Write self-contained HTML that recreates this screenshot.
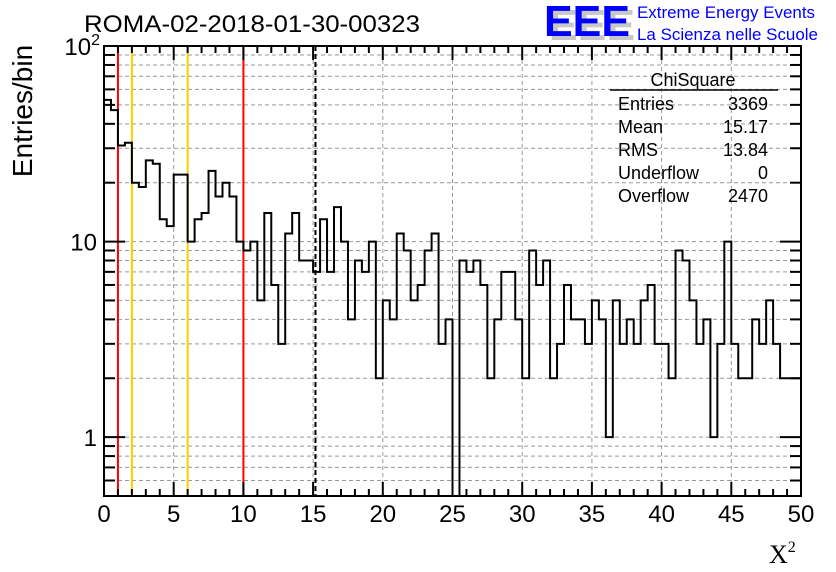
<!DOCTYPE html>
<html><head><meta charset="utf-8"><style>
html,body{margin:0;padding:0;background:#fff;}
svg{display:block;font-family:"Liberation Sans",sans-serif;}
</style></head><body>
<svg id="c" width="836" height="572" viewBox="0 0 836 572">
<rect width="836" height="572" fill="#fff"/>
<g id="grid"></g>
<g id="vlines"></g>
<path id="hist" fill="none" stroke="#000" stroke-width="2"/>
<rect x="104" y="46" width="697" height="450" fill="none" stroke="#000" stroke-width="2"/>
<g id="ticks"></g>
<g id="labels" font-size="24"></g>
<text x="84" y="32" font-size="24" textLength="336" lengthAdjust="spacingAndGlyphs">ROMA-02-2018-01-30-00323</text>
<g>
<text x="549" y="40" font-size="44" font-weight="bold" fill="#c8c8c8" textLength="86" lengthAdjust="spacingAndGlyphs">EEE</text>
<text x="544" y="36" font-size="44" font-weight="bold" fill="#0000ff" textLength="86" lengthAdjust="spacingAndGlyphs">EEE</text>
</g>
<text x="637" y="18" font-size="16.5" fill="#0000ff" textLength="178" lengthAdjust="spacingAndGlyphs">Extreme Energy Events</text>
<text x="637" y="40" font-size="16.5" fill="#0000ff" textLength="181" lengthAdjust="spacingAndGlyphs">La Scienza nelle Scuole</text>
<g font-size="18">
<text x="693" y="86" text-anchor="middle">ChiSquare</text>
<line x1="610" y1="90" x2="778" y2="90" stroke="#000" stroke-width="1.5"/>
<text x="618" y="110">Entries</text><text x="768" y="110" text-anchor="end">3369</text>
<text x="618" y="133">Mean</text><text x="768" y="133" text-anchor="end">15.17</text>
<text x="618" y="156">RMS</text><text x="768" y="156" text-anchor="end">13.84</text>
<text x="618" y="179">Underflow</text><text x="768" y="179" text-anchor="end">0</text>
<text x="618" y="202">Overflow</text><text x="768" y="202" text-anchor="end">2470</text>
</g>
<text transform="translate(32,111) rotate(-90)" text-anchor="middle" font-size="28">Entries/bin</text>
<text x="769" y="563" font-size="26" font-family="Liberation Serif, serif">X<tspan font-size="16" dy="-11">2</tspan></text>
</svg>
<script>
const counts=[53,47,31,32,20,19,26,25,13,12,22,22,10,13,14,23,17,20,17,10,9,10,5,14,6,3,11,14,8,8,7,13,7,15,10,4,8,7,10,2,5,4,11,9,5,6,9,11,3,4,0,8,7,8,6,2,4,7,7,4,2,9,6,8,2,3,6,4,4,3,5,4,1,5,3,4,3,5,6,3,3,2,9,8,5,3,4,1,3,10,3,2,2,4,3,5,3,2,2,2];
const xTicks=[0,5,10,15,20,25,30,35,40,45,50];
const yTicks=[1,10,100];
const markerX=[1,2,6,10];
const markerColor=["#ff0000","#ffcc00","#ffcc00","#ff0000"];
const meanX=15.17;
const X0=104,X1=801,Y0=496,Y1=46;
const xmin=0,xmax=50,ymin=0.5,ymax=100;
const sx=v=>X0+(v-xmin)/(xmax-xmin)*(X1-X0);
const sy=v=>v<=ymin?Y0:Y0-(Math.log10(v)-Math.log10(ymin))/(Math.log10(ymax)-Math.log10(ymin))*(Y0-Y1);
const NS="http://www.w3.org/2000/svg";
function mk(tag,attrs,parent){const e=document.createElementNS(NS,tag);for(const k in attrs)e.setAttribute(k,attrs[k]);parent.appendChild(e);return e;}
const grid=document.getElementById('grid'),ticks=document.getElementById('ticks'),labels=document.getElementById('labels'),vl=document.getElementById('vlines');
xTicks.forEach(t=>{if(t>xmin&&t<xmax){const g=mk('line',{x1:sx(t),x2:sx(t),y1:Y1,y2:Y0,stroke:'#999','stroke-dasharray':'4,3','stroke-width':1},grid);

}
const l=mk('text',{x:sx(t),y:522,'text-anchor':'middle'},labels);l.textContent=t;

});
for(let v=0;v<=50;v+=1){const big=v%5===0;mk('line',{x1:sx(v),x2:sx(v),y1:Y0,y2:Y0-(big?14:7),stroke:'#000','stroke-width':2},ticks);mk('line',{x1:sx(v),x2:sx(v),y1:Y1,y2:Y1+(big?14:7),stroke:'#000','stroke-width':2},ticks);}
for(let d=0.1;d<100;d*=10){for(let m=1;m<10;m++){const v=Math.round(d*m*10)/10;if(v<ymin||v>=ymax)continue;const y=sy(v);const major=(m===1);
const g=mk('line',{x1:X0,x2:X1,y1:y,y2:y,stroke:'#999','stroke-dasharray':'4,3','stroke-width':1},grid);


mk('line',{x1:X0,x2:X0+(major?21:11),y1:y,y2:y,stroke:'#000','stroke-width':2},ticks);mk('line',{x1:X1,x2:X1-(major?21:11),y1:y,y2:y,stroke:'#000','stroke-width':2},ticks);}}
yTicks.forEach(t=>{const l=mk('text',{x:97,y:sy(t)+9,'text-anchor':'end'},labels);


if(t===100){l.textContent='10';const s=mk('tspan',{dy:-10,'font-size':16},l);s.textContent='2';l.setAttribute('x',100);}else l.textContent=t;});
markerX.forEach((m,i)=>{const l=mk('line',{x1:sx(m),x2:sx(m),y1:Y1,y2:Y0,stroke:markerColor[i],'stroke-width':2},vl);

});
const ml=mk('line',{x1:sx(meanX),x2:sx(meanX),y1:Y1,y2:Y0,stroke:'#000','stroke-width':2,'stroke-dasharray':'5,3'},vl);


const bw=(xmax-xmin)/counts.length;let d='';
counts.forEach((c,i)=>{const xa=sx(i*bw),xb=sx((i+1)*bw),y=sy(c);d+=(i===0?'M'+xa+','+y:'L'+xa+','+y)+'L'+xb+','+y;});
document.getElementById('hist').setAttribute('d',d);
</script>
</body></html>
